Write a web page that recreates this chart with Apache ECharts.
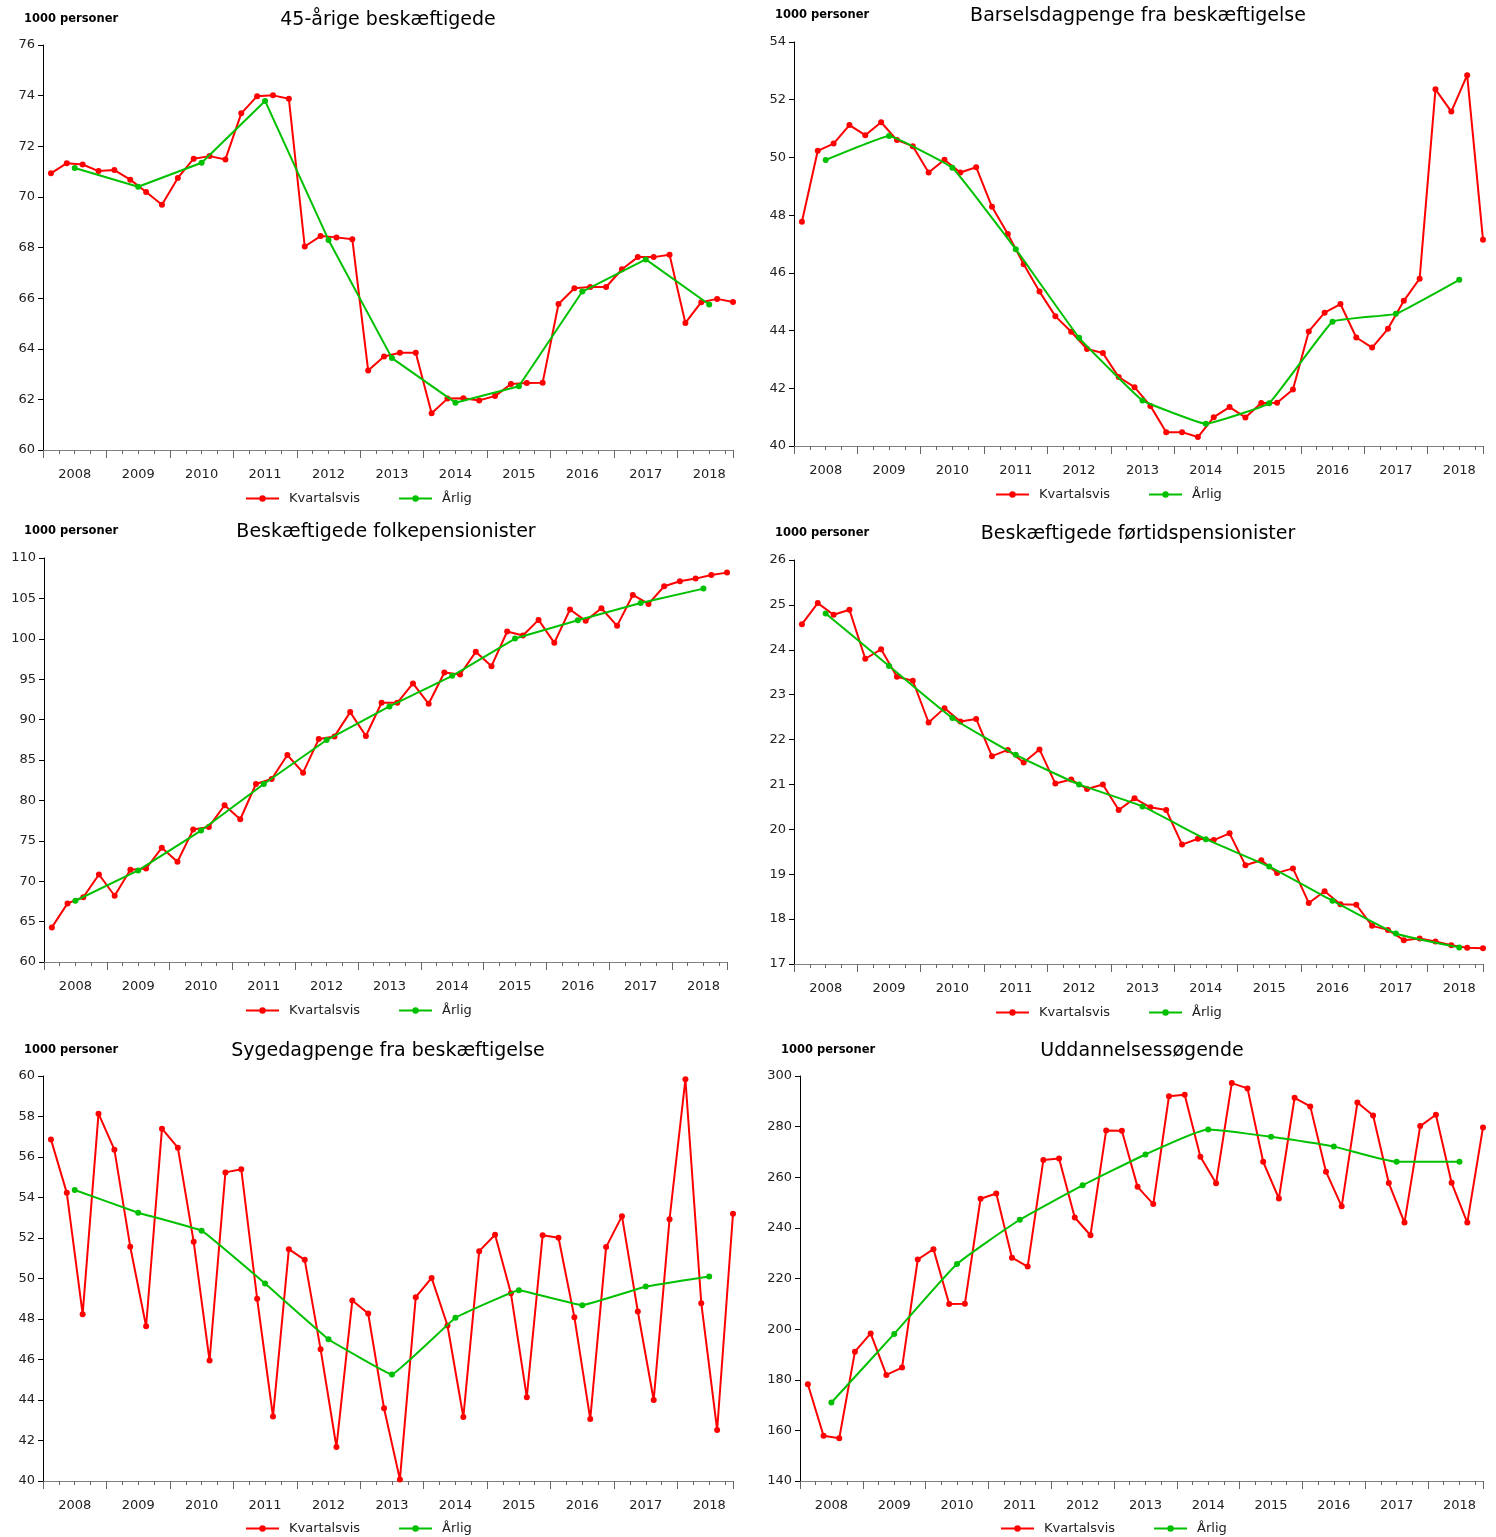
<!DOCTYPE html>
<html><head><meta charset="utf-8">
<script src="https://cdn.jsdelivr.net/npm/echarts@6/dist/echarts.min.js"></script>
<style>html,body{margin:0;padding:0;background:#fff}#c{width:1496px;height:1537px}</style>
</head><body><div id="c"></div>
<script>
const years = [2008,2009,2010,2011,2012,2013,2014,2015,2016,2017,2018];
const unitLabel = '1000 personer';
const seriesNames = ['Kvartalsvis','Årlig'];

const q45 = [70.93,71.33,71.28,71.02, 71.06,70.68,70.19,69.69, 70.75,71.51,71.61,71.48, 73.30,73.98,74.01,73.88,
  68.04,68.45,68.40,68.33, 63.14,63.69,63.84,63.84, 61.45,62.03,62.04,61.96, 62.13,62.61,62.65,62.66,
  65.77,66.39,66.44,66.44, 67.14,67.62,67.62,67.71, 65.02,65.84,65.97,65.85];
const a45 = [71.14,70.40,71.35,73.79,68.30,63.63,61.87,62.52,66.26,67.53,65.75];

const qBarsel = [47.77,50.23,50.48,51.12, 50.77,51.22,50.60,50.39, 49.48,49.92,49.48,49.66, 48.29,47.35,46.30,45.35,
  44.50,43.96,43.36,43.22, 42.39,42.04,41.39,40.48, 40.48,40.31,41.00,41.35, 40.99,41.49,41.50,41.96,
  43.97,44.62,44.92,43.76, 43.41,44.06,45.03,45.80, 52.36,51.59,52.85,47.15];
const aBarsel = [49.91,50.74,49.64,46.82,43.75,41.58,40.77,41.48,44.31,44.58,45.76];

const qFolk = [64.28,67.25,68.01,70.83, 68.20,71.41,71.57,74.13, 72.40,76.39,76.72,79.40, 77.67,82.03,82.65,85.62,
  83.43,87.59,87.92,90.93, 87.97,92.08,92.08,94.47, 91.96,95.83,95.58,98.39, 96.61,100.90,100.40,102.34,
  99.50,103.62,102.22,103.78, 101.60,105.43,104.32,106.50, 107.12,107.45,107.90,108.19];
const aFolk = [67.58,71.33,76.27,82.03,87.47,91.63,95.42,100.03,102.30,104.44,106.21];

const qFoer = [24.57,25.04,24.78,24.89, 23.80,24.01,23.40,23.31, 22.38,22.70,22.40,22.46, 21.63,21.77,21.49,21.78,
  21.02,21.11,20.90,21.00, 20.43,20.69,20.49,20.43, 19.66,19.79,19.76,19.91, 19.20,19.31,19.03,19.13,
  18.36,18.62,18.33,18.32, 17.85,17.76,17.53,17.57, 17.50,17.42,17.36,17.35];
const aFoer = [24.81,23.64,22.48,21.66,21.00,20.51,19.78,19.17,18.41,17.68,17.37];

const qSyge = [56.87,54.23,48.24,58.14, 56.36,51.57,47.64,57.40, 56.46,51.81,45.95,55.24, 55.39,49.00,43.18,51.45,
  50.92,46.51,41.68,48.91, 48.27,43.59,40.08,49.08, 50.03,47.68,43.16,51.35, 52.16,49.27,44.14,52.14,
  52.01,48.09,43.06,51.55, 53.08,48.37,44.00,52.93, 59.84,48.78,42.52,53.20];
const aSyge = [54.37,53.25,52.36,49.75,47.00,45.26,48.06,49.42,48.68,49.60,50.10];

const qUdd = [178.2,157.9,156.9,191.1, 198.3,181.9,184.8,227.5, 231.6,209.9,210.0,251.5, 253.6,228.2,224.7,266.8,
  267.4,244.1,237.1,278.5, 278.4,256.2,249.4,292.0, 292.6,268.1,257.6,297.2, 295.1,266.1,251.6,291.4,
  288.0,262.2,248.5,289.5, 284.4,257.7,242.1,280.2, 284.7,257.8,242.1,279.7];
const aUdd = [171.0,198.1,225.7,243.2,256.8,269.0,278.9,276.0,272.1,266.1,266.1];

const panels = [
  {title:'45-årige beskæftigede', q:q45, a:a45, min:60, max:76, step:2,
   grid:{left:43,top:45,width:690,height:405}, tx:388, ty:6, ux:24, uy:10, lx:245, ly:491, smooth:0},
  {title:'Barselsdagpenge fra beskæftigelse', q:qBarsel, a:aBarsel, min:40, max:54, step:2,
   grid:{left:794,top:42,width:689,height:404}, tx:1138, ty:2, ux:775, uy:6, lx:995, ly:487, smooth:0.08},
  {title:'Beskæftigede folkepensionister', q:qFolk, a:aFolk, min:60, max:110, step:5,
   grid:{left:44,top:558,width:683,height:404}, tx:386, ty:518, ux:24, uy:522, lx:245, ly:1003, smooth:0},
  {title:'Beskæftigede førtidspensionister', q:qFoer, a:aFoer, min:17, max:26, step:1,
   grid:{left:794,top:560,width:689,height:404}, tx:1138, ty:520, ux:775, uy:524, lx:995, ly:1005, smooth:0.15},
  {title:'Sygedagpenge fra beskæftigelse', q:qSyge, a:aSyge, min:40, max:60, step:2,
   grid:{left:43,top:1076,width:690,height:405}, tx:388, ty:1037, ux:24, uy:1041, lx:245, ly:1521, smooth:0.06},
  {title:'Uddannelsessøgende', q:qUdd, a:aUdd, min:140, max:300, step:20,
   grid:{left:800,top:1076,width:683,height:405}, tx:1142, ty:1037, ux:781, uy:1041, lx:1000, ly:1521, smooth:0.15}
];

const FONT = 'DejaVu Sans';
const nQ = q45.length;
const xMax = nQ - 0.5;
const option = {animation:false, backgroundColor:'#fff', textStyle:{fontFamily:FONT},
  title:[], grid:[], xAxis:[], yAxis:[], series:[], legend:[]};

panels.forEach((p,i)=>{
  option.title.push({text:p.title, left:p.tx, top:p.ty+5, textAlign:'center', padding:0,
    textStyle:{fontFamily:FONT, fontSize:19, fontWeight:'normal', color:'#000'}});
  option.title.push({text:unitLabel, left:p.ux, top:p.uy+3, padding:0,
    textStyle:{fontFamily:FONT, fontSize:11.5, fontWeight:'bold', color:'#000'}});
  option.grid.push(Object.assign({containLabel:false}, p.grid));
  option.xAxis.push({type:'value', gridIndex:i, position:'bottom', min:0, max:xMax, interval:4,
    axisLine:{show:true, onZero:false, lineStyle:{color:'#808080', width:1}},
    axisTick:{show:true, length:8, lineStyle:{color:'#666'}},
    minorTick:{show:true, splitNumber:4, length:4, lineStyle:{color:'#666'}},
    axisLabel:{show:false}, splitLine:{show:false}, minorSplitLine:{show:false}});
  option.xAxis.push({type:'value', gridIndex:i, position:'bottom', min:0, max:xMax, interval:2,
    axisLine:{show:false}, axisTick:{show:false}, splitLine:{show:false},
    axisLabel:{show:true, margin:18, fontFamily:FONT, fontSize:13, color:'#222',
      showMinLabel:true, showMaxLabel:true,
      formatter:v=>{ if (Math.abs(v%4-2)<1e-6){ const k=Math.round((v-2)/4); return years[k]!==undefined? String(years[k]):''; } return ''; }}});
  option.yAxis.push({type:'value', gridIndex:i, min:p.min, max:p.max, interval:p.step,
    axisLine:{show:true, lineStyle:{color:'#000', width:1}},
    axisTick:{show:true, length:5, lineStyle:{color:'#000'}},
    axisLabel:{margin:8, fontFamily:FONT, fontSize:13, color:'#222'},
    splitLine:{show:false}});
  option.series.push({name:seriesNames[0], type:'line', xAxisIndex:2*i, yAxisIndex:i,
    data:p.q.map((v,k)=>[k+0.5, v]), symbol:'circle', symbolSize:6, showSymbol:true,
    lineStyle:{color:'#ff0000', width:2}, itemStyle:{color:'#ff0000'}, z:2});
  option.series.push({name:seriesNames[1], type:'line', xAxisIndex:2*i, yAxisIndex:i,
    data:p.a.map((v,k)=>[4*k+2, v]), symbol:'circle', symbolSize:6, showSymbol:true, smooth:p.smooth||false,
    lineStyle:{color:'#00c000', width:2}, itemStyle:{color:'#00c000'}, z:3});
  option.legend.push({data:seriesNames, left:p.lx, top:p.ly+1, padding:0, itemWidth:33, itemHeight:8, itemGap:38,
    textStyle:{fontFamily:FONT, fontSize:13, color:'#222', padding:[0,0,0,5]}, selectedMode:false});
});

const chart = echarts.init(document.getElementById('c'), null, {renderer:'canvas'});
chart.setOption(option);
</script></body></html>
